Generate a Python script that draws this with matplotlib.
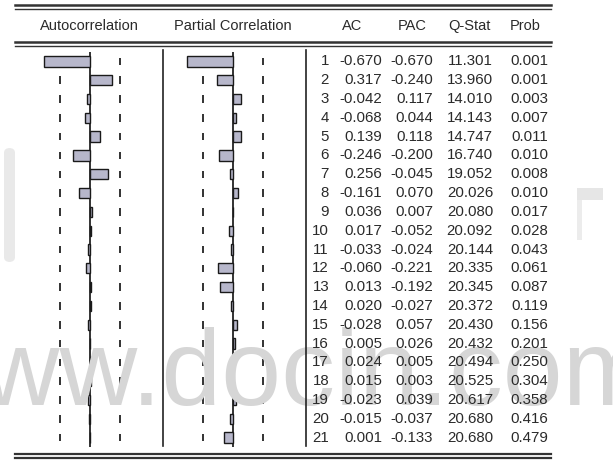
import matplotlib
matplotlib.use("Agg")
import matplotlib.pyplot as plt
import matplotlib.transforms as mtransforms
from matplotlib.lines import Line2D
from matplotlib.patches import FancyBboxPatch, Rectangle
import numpy as np

# ---------------- data ----------------
lags = list(range(1, 22))
ac = [-0.670, 0.317, -0.042, -0.068, 0.139, -0.246, 0.256, -0.161, 0.036, 0.017,
      -0.033, -0.060, 0.013, 0.020, -0.028, 0.005, 0.024, 0.015, -0.023, -0.015, 0.001]
pac = [-0.670, -0.240, 0.117, 0.044, 0.118, -0.200, -0.045, 0.070, 0.007, -0.052,
       -0.024, -0.221, -0.192, -0.027, 0.057, 0.026, 0.005, 0.003, 0.039, -0.037, -0.133]
qstat = [11.301, 13.960, 14.010, 14.143, 14.747, 16.740, 19.052, 20.026, 20.080, 20.092,
         20.144, 20.335, 20.345, 20.372, 20.430, 20.432, 20.494, 20.525, 20.617, 20.680, 20.680]
prob = [0.001, 0.001, 0.003, 0.007, 0.011, 0.010, 0.008, 0.010, 0.017, 0.028,
        0.043, 0.061, 0.087, 0.119, 0.156, 0.201, 0.250, 0.304, 0.358, 0.416, 0.479]
n_obs = 21
headers = ["Autocorrelation", "Partial Correlation", "AC", "PAC", "Q-Stat", "Prob"]
watermark = "www.docin.com"

# ---------------- layout helpers ----------------
W, H = 613, 476
fig = plt.figure(figsize=(W / 100, H / 100), dpi=100)
fig.patch.set_facecolor("white")

def fx(x):
    return x / W

def fy(y):
    return 1 - y / H

FONT = "Liberation Sans"
TXT = "#2a2a2a"

# watermark (drawn first, underneath)
fig.text(fx(-96), fy(405), watermark, fontsize=77.5, family=FONT, color="#d6d6d6",
         ha="left", va="baseline", zorder=0)
fig.add_artist(FancyBboxPatch((fx(4), fy(262)), fx(11), fy(148) - fy(262),
                              boxstyle="round,pad=0,rounding_size=0.01",
                              transform=fig.transFigure, facecolor="#e9e9e9",
                              edgecolor="none", zorder=0))
fig.add_artist(Rectangle((fx(577), fy(200)), fx(26), fy(188) - fy(200),
                         transform=fig.transFigure, facecolor="#e6e6e6",
                         edgecolor="none", zorder=0))
fig.add_artist(Rectangle((fx(577), fy(240)), fx(5), fy(200) - fy(240),
                         transform=fig.transFigure, facecolor="#ececec",
                         edgecolor="none", zorder=0))

# panel axes: zero of AC at x=90px, PAC at x=233px; 68.66 px per unit
scale = 68.66
top_px, bot_px = 52, 447
bound = 2 / np.sqrt(n_obs)

def make_panel(zero_px, values):
    ax = fig.add_axes([fx(zero_px - scale), fy(bot_px), 2 * scale / W, (bot_px - top_px) / H])
    ax.set_xlim(-1, 1)
    ax.set_ylim(21.5, 0.5)
    ax.axis("off")
    ax.patch.set_alpha(0)
    ax.axvline(0, color="#111111", lw=1.2, zorder=2)
    lg = np.array(lags)
    for b in (-bound, bound):
        ax.vlines(np.full(len(lg), b), lg - 0.2, lg + 0.2, color="#222222", lw=1.3, zorder=1)
    ax.barh(lags, values, height=0.55, left=0, color="#b7b7cb", edgecolor="#1a1a1a",
            linewidth=1.0, zorder=3)
    return ax

ax_ac = make_panel(90, ac)
ax_pac = make_panel(233, pac)

# rules
def hline(y, lw):
    fig.add_artist(Line2D([fx(15), fx(551)], [fy(y), fy(y)], transform=fig.transFigure,
                          color="#333333", lw=lw, zorder=4))

for y, lw in [(5, 1.8), (9, 1.0), (42, 1.8), (46, 1.0), (454, 1.6), (457.5, 1.6)]:
    hline(y, lw)

for x in (163, 306):
    fig.add_artist(Line2D([fx(x), fx(x)], [fy(50), fy(446)], transform=fig.transFigure,
                          color="#222222", lw=1.2, zorder=4))

# headers
hy = fy(26)
fs_h = 10.5
for txt, xc in zip(headers, [89, 233, 352, 412, 469, 525]):
    fig.text(fx(xc), hy, txt, ha="center", va="center", fontsize=fs_h, family=FONT, color=TXT)

# table rows
tr = mtransforms.blended_transform_factory(fig.transFigure, ax_pac.transData)
fs = 10.8
for i, k in enumerate(lags):
    cols = [(329, f"{k}"), (382, f"{ac[i]:.3f}"), (433, f"{pac[i]:.3f}"),
            (493, f"{qstat[i]:.3f}"), (548, f"{prob[i]:.3f}")]
    for xr, s in cols:
        fig.text(fx(xr), k, s, transform=tr, ha="right", va="center", fontsize=fs,
                 family=FONT, color=TXT, zorder=5)

fig.savefig("out.png", dpi=100)
